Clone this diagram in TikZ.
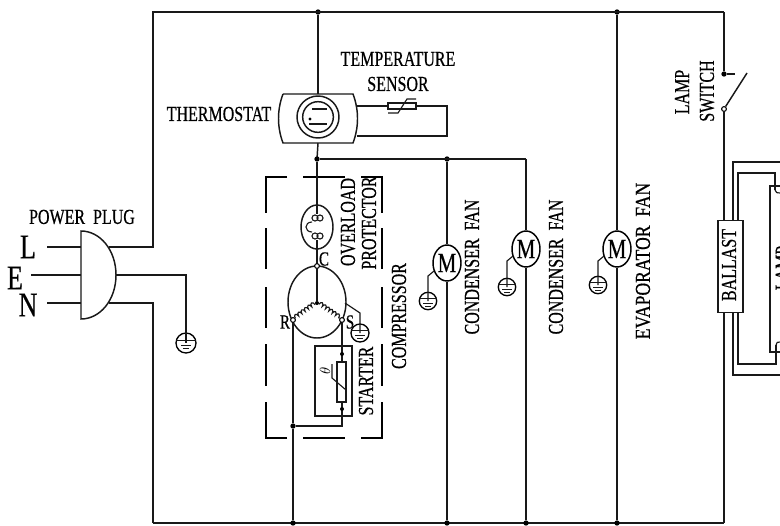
\documentclass[tikz,border=0pt]{standalone}
\usepackage{fontspec}
\setmainfont[FakeStretch=0.75,FakeBold=0.5]{Liberation Serif}
\usetikzlibrary{calc,positioning,shapes.geometric,decorations.pathmorphing}
\tikzset{
	wire/.style={line width=1.1pt, color=black!90},
	thin wire/.style={line width=0.85pt, color=black!90},
	jdot/.style={circle, fill=black, inner sep=0pt, minimum size=4pt},
	term/.style={circle, draw, fill=white, line width=0.8pt, inner sep=0pt, minimum size=3.6pt},
	lbl/.style={inner sep=0pt, font=\fontsize{16}{18}\selectfont},
	vlbl/.style={lbl, rotate=90},
	biglbl/.style={inner sep=0pt, font=\fontsize{26}{28}\selectfont},
	motor/.style={ellipse, draw, line width=1.1pt, inner sep=0pt, minimum width=21pt, minimum height=27pt, font=\fontsize{21}{22}\selectfont},
	dashbox/.style={line width=1pt},
	coil wire/.style={thin wire, decorate, decoration={bumps, segment length=6pt, amplitude=2.4pt}}
}
\def\groundsym(#1)(#2)(#3){
	\node[circle, draw, line width=1pt, inner sep=0pt, minimum size={1.5*#3*1pt}] (#1) at (#2) {};
	\draw[thin wire] ($(#1)+(-#3,-2.7)$) -- ($(#1)+(#3,-2.7)$);
	\draw[thin wire] ($(#1)+(-5,2.7)$) -- ($(#1)+(5,2.7)$);
	\draw[thin wire] ($(#1)+(-3,5.7)$) -- ($(#1)+(3,5.7)$);
}

\begin{document}
\begin{tikzpicture}[x=0.75pt, y=-0.75pt]
	\path[use as bounding box, clip] (0,0) rectangle (780,525);
	\fill[white] (0,0) rectangle (780,525);

	%%%%% main wires %%%%%
	\coordinate (topleft) at (153,12);
	\coordinate (botleft) at (153,523);
	\node[jdot] (topc) at (318,12) {};
	\node[jdot] (tope) at (617,12) {};
	\coordinate (topsw) at (724,12);
	\draw[wire] (botleft) -- (153,303) -- (109,303);
	\draw[wire] (109,247) -- (153,247) -- (topleft) -- (topsw);
	\draw[wire] (botleft) -- (724,523);

	%%%%% plug %%%%%
	\draw[wire] (81,231) .. controls (100,231) and (116,250) .. (116,275) .. controls (116,300) and (100,319) .. (81,319) -- cycle;
	\draw[wire] (47,247) -- (81,247);
	\draw[wire] (31,275) -- (81,275);
	\draw[wire] (47,303) -- (81,303);
	\node[lbl] (plug) at (82,217) {POWER\ \ PLUG};
	\node[biglbl] (linel) at (28,247) {L};
	\node[biglbl] (linee) at (15,278) {E};
	\node[biglbl] (linen) at (28,305) {N};
	\groundsym(gndplug)(186,343)(10)
	\draw[wire] (116,275) -| (gndplug.center);

	%%%%% thermostat %%%%%
	\draw[wire] (283,94) -- (353,94) .. controls (359,110) and (359,127) .. (353,143) -- (283,143) .. controls (277,127) and (277,110) .. (283,94);
	\node[circle, draw, wire, inner sep=0pt, minimum size=31.5pt] (thermo) at (318,117) {};
	\node[circle, draw, wire, inner sep=0pt, minimum size=23pt] (thermoin) at (318,117) {};
	\draw[thin wire] (312,109) -- (327,109);
	\draw[thin wire] (309,124) -- (327,124);
	\fill (310,119) circle (1.7);
	\node[lbl] (thermolbl) at (219,114) {THERMOSTAT};
	\draw[wire] (topc) -- (318,94);
	\draw[wire] (318,143) -- (317,159);

	%%%%% sensor %%%%%
	\draw[wire] (357,106) -- (447,106) -- (447,136) -- (357,136);
	\draw[wire, fill=white] (388,103) rectangle (416,109);
	\draw[thin wire] (388,113) -- (398,113) -- (407,99) -- (416,99);
	\node[lbl] (templbl) at (398,59) {TEMPERATURE};
	\node[lbl] (senslbl) at (398,84) {SENSOR};

	%%%%% fans %%%%%
	\node[jdot] (jcomp) at (317,159) {};
	\node[jdot] (jfan) at (447,159) {};
	\coordinate (jfanb) at (526,159);
	\draw[wire] (jcomp) -- (jfanb);
	\node[motor] (fana) at (447,263) {M};
	\node[motor] (fanb) at (526,249) {M};
	\node[motor] (fanc) at (617,249) {M};
	\node[jdot] (bota) at (447,523) {};
	\node[jdot] (botb) at (526,523) {};
	\node[jdot] (botc) at (617,523) {};
	\draw[wire] (jfan) -- (fana) -- (bota);
	\draw[wire] (jfanb) -- (fanb) -- (botb);
	\draw[wire] (tope) -- (fanc) -- (botc);
	\groundsym(gnda)(428,301)(8.7)
	\groundsym(gndb)(507,287)(8.7)
	\groundsym(gndc)(598,285)(8.7)
	\draw[thin wire] (434,271) -- (428,276) -- (gnda.center);
	\draw[thin wire] (513,256) -- (507,261) -- (gndb.center);
	\draw[thin wire] (604,256) -- (598,261) -- (gndc.center);
	\node[vlbl] (fanalbl) at (472,267) {CONDENSER\ \ FAN};
	\node[vlbl] (fanblbl) at (556,267) {CONDENSER\ \ FAN};
	\node[vlbl, xscale=1.1] (fanclbl) at (643,261) {EVAPORATOR\ \ FAN};

	%%%%% compressor box %%%%%
	\draw[dashbox] (287,177) -- (266,177) -- (266,213);
	\draw[dashbox] (361,177) -- (382,177) -- (382,213);
	\draw[dashbox] (287,438) -- (266,438) -- (266,402);
	\draw[dashbox] (361,438) -- (382,438) -- (382,402);
	\draw[dashbox] (303,177) -- (345,177);
	\draw[dashbox] (303,438) -- (345,438);
	\foreach \side in {266,382}{
		\draw[dashbox] (\side,228) -- (\side,269);
		\draw[dashbox] (\side,287) -- (\side,328);
		\draw[dashbox] (\side,344) -- (\side,386);
	}

	%%%%% overload %%%%%
	\node[ellipse, draw, wire, inner sep=0pt, minimum width=24pt, minimum height=33pt] (overload) at (317,227) {};
	\draw[wire] (jcomp) -- (317,214);
	\draw[thin wire] (315,218) circle (3) (320,218) circle (3);
	\draw[thin wire] (315,236) circle (3) (320,236) circle (3);
	\draw[thin wire] (312,222) .. controls (304,222) and (304,232) .. (312,232);
	\draw[wire] (317,240) -- (317,266);
	\node[inner sep=0pt, font=\fontsize{15}{16}\selectfont] (clbl) at (324,259) {C};
	\node[vlbl] (ovlbl) at (348,222) {OVERLOAD};
	\node[vlbl] (prlbl) at (369,223) {PROTECTOR};

	%%%%% motor windings %%%%%
	\node[ellipse, draw, wire, inner sep=0pt, minimum width=43.5pt, minimum height=54pt] (comp) at (317,302) {};
	\node[term] (cterm) at (317,266) {};
	\node[jdot, minimum size=3pt] (star) at (317,303) {};
	\node[term] (rterm) at (293,320) {};
	\node[term] (sterm) at (342,320) {};
	\draw[thin wire] (cterm) -- (star);
	\draw[coil wire] (rterm) -- (star);
	\draw[coil wire] (star) -- (sterm);
	\node[inner sep=0pt, font=\fontsize{15}{16}\selectfont] (rlbl) at (285,322) {R};
	\node[inner sep=0pt, font=\fontsize{15}{16}\selectfont] (slbl) at (350,322) {S};
	\groundsym(gndcomp)(360,333)(9)
	\draw[thin wire] (345,303) -- (360,313) -- (gndcomp.center);

	%%%%% starter %%%%%
	\node[jdot] (jstart) at (293,426) {};
	\node[jdot] (botr) at (293,523) {};
	\draw[wire] (rterm) -- (jstart) -- (botr);
	\draw[thin wire] (315,346) rectangle (352,416);
	\draw[wire] (sterm) -- (342,426) -- (jstart);
	\node[jdot, minimum size=3pt] (ptctop) at (342,354) {};
	\node[jdot, minimum size=3pt] (ptcbot) at (342,409) {};
	\draw[wire, fill=white] (337,362) rectangle (346,402);
	\draw[thin wire] (332,364) -- (332,378) -- (346,390);
	\node[inner sep=0pt, rotate=90, font=\fontsize{11}{12}\selectfont] (thetalbl) at (325,371) {$\theta$};
	\node[vlbl] (startlbl) at (366,381) {STARTER};
	\node[vlbl] (complbl) at (399,316) {COMPRESSOR};

	%%%%% lamp switch %%%%%
	\node[jdot] (swtop) at (724,74) {};
	\node[term] (swbot) at (724,109) {};
	\coordinate (swstub) at (735,74);
	\coordinate (swblade) at (747,73);
	\draw[wire] (topsw) -- (swtop) -- (swstub);
	\draw[wire] (swbot) -- (swblade);
	\node[vlbl] (lamplbl) at (682,92) {LAMP};
	\node[vlbl] (switchlbl) at (707,91) {SWITCH};

	%%%%% ballast and lamp %%%%%
	\node[draw, wire, fill=white, minimum width=19pt, minimum height=69pt, inner sep=0pt] (ballast) at (730.5,266.5) {};
	\node[vlbl] (ballastlbl) at (729,265) {BALLAST};
	\draw[wire] (swbot) -- (724,220);
	\draw[wire] (724,313) -- (724,523);
	\draw[wire] (733,220) -- (733,162) -- (780,162);
	\draw[wire] (738,220) -- (738,173) -- (775,173) -- (775,190);
	\draw[wire] (733,313) -- (733,375) -- (780,375);
	\draw[wire] (738,313) -- (738,364) -- (776,364) -- (776,345);
	\draw[wire] (780,186) -- (770,186) -- (770,352) -- (780,352);
	\draw[thin wire] (775,190) .. controls (775,193) and (778,193) .. (780,193);
	\draw[thin wire] (776,345) .. controls (776,342) and (778,342) .. (780,342);
	\node[vlbl, anchor=south] (lamptxt) at (790,268) {LAMP};
\end{tikzpicture}
\end{document}
